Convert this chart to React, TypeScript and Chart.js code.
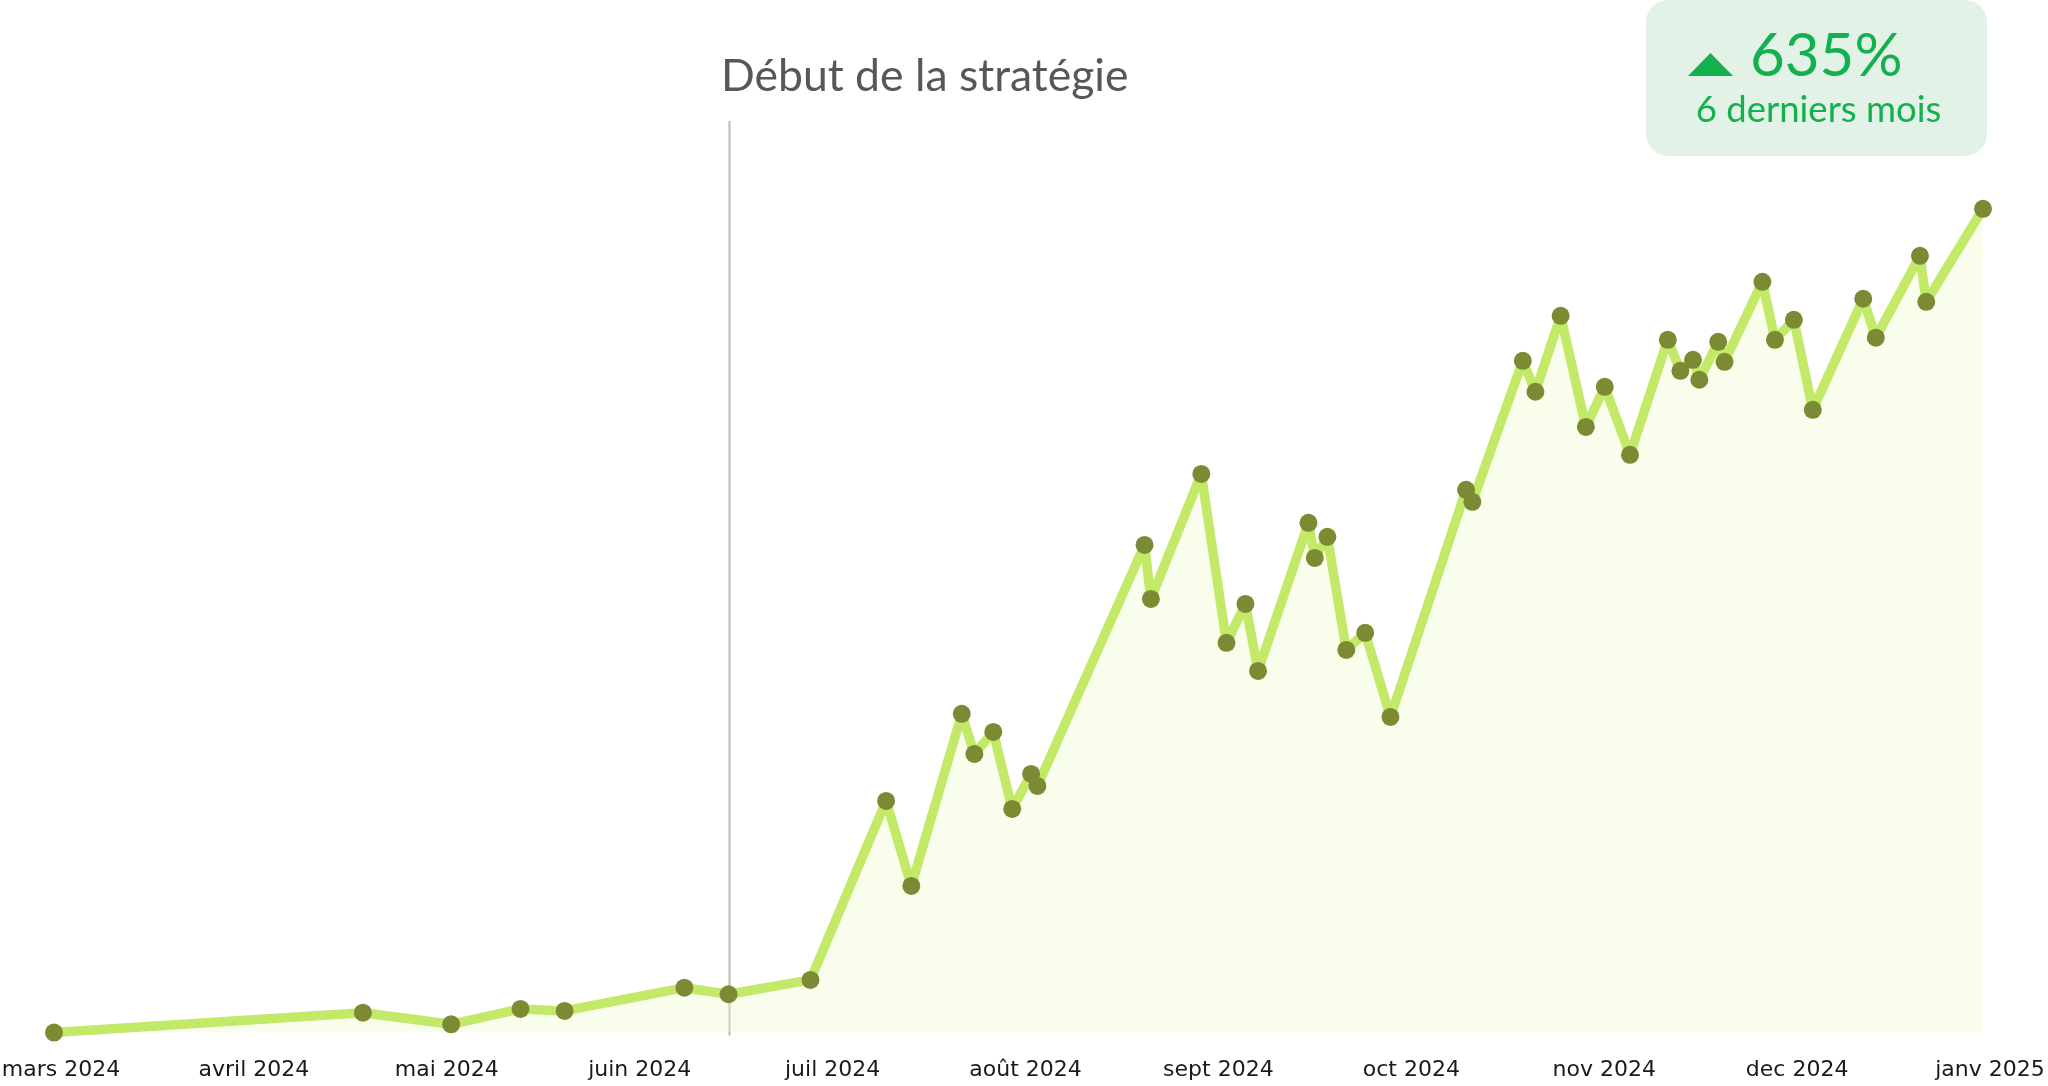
import { useEffect, useRef } from 'react';
import { Chart, registerables } from 'chart.js';

Chart.register(...registerables);

// ---- data ----
const dates: string[] = [
  '2024-03-01', '2024-04-19', '2024-05-03', '2024-05-14', '2024-05-21', '2024-06-09', '2024-06-16', '2024-06-29',
  '2024-07-11', '2024-07-15', '2024-07-23', '2024-07-25', '2024-07-28', '2024-07-31', '2024-08-03', '2024-08-04',
  '2024-08-21', '2024-08-22', '2024-08-30', '2024-09-03', '2024-09-06', '2024-09-08', '2024-09-16', '2024-09-17',
  '2024-09-19', '2024-09-22', '2024-09-25', '2024-09-29', '2024-10-11', '2024-10-12', '2024-10-20', '2024-10-22',
  '2024-10-26', '2024-10-30', '2024-11-02', '2024-11-06', '2024-11-12', '2024-11-14', '2024-11-16', '2024-11-17',
  '2024-11-20', '2024-11-21', '2024-11-27', '2024-11-29', '2024-12-02', '2024-12-05', '2024-12-13', '2024-12-15',
  '2024-12-22', '2024-12-23', '2025-01-01',
];

const values: number[] = [
  69.0, 85.1, 75.7, 88.1, 86.5, 105.3, 100.0, 111.6,
  256.3, 187.6, 326.7, 294.3, 312.1, 249.8, 278.1, 268.4,
  463.3, 419.6, 520.7, 384.1, 415.6, 361.4, 481.1, 452.8,
  469.8, 378.4, 392.2, 324.2, 507.8, 498.1, 612.1, 587.1,
  648.5, 558.7, 591.1, 536.1, 629.1, 604.0, 612.9, 596.8,
  627.5, 611.3, 676.0, 629.1, 645.3, 572.5, 662.3, 630.8,
  697.0, 659.8, 735.0,
];

const monthLabels: string[] = [
  'mars 2024', 'avril 2024', 'mai 2024', 'juin 2024', 'juil 2024', 'août 2024',
  'sept 2024', 'oct 2024', 'nov 2024', 'dec 2024', 'janv 2025',
];

const strategyDate = '2024-06-16';
const strategyLabel = 'Début de la stratégie';
const badgeValue = '635%';
const badgeLabel = '6 derniers mois';

const rangeStart = '2024-03-01';
const rangeEnd = '2025-01-01';
const yMin = 69;
const yMax = 806;

// ---- helpers ----
const DAY = 86400000;
const toDay = (s: string) => (Date.parse(s + 'T00:00:00Z') - Date.parse(rangeStart + 'T00:00:00Z')) / DAY;

const strategyLinePlugin = {
  id: 'strategyLine',
  beforeDatasetsDraw(chart: any) {
    const { ctx, chartArea, scales } = chart;
    const x = Math.round(scales.x.getPixelForValue(toDay(strategyDate))) + 0.5;
    ctx.save();
    ctx.strokeStyle = '#b8b8b8';
    ctx.lineWidth = 2;
    ctx.beginPath();
    ctx.moveTo(x, chartArea.top);
    ctx.lineTo(x, chartArea.bottom + 3);
    ctx.stroke();
    ctx.restore();
  },
};

export default function App() {
  const canvasRef = useRef<HTMLCanvasElement | null>(null);

  useEffect(() => {
    if (!canvasRef.current) return;
    const maxDay = toDay(rangeEnd);
    const tickValues = monthLabels.map((_, i) => (i * maxDay) / (monthLabels.length - 1));
    const chart = new Chart(canvasRef.current, {
      type: 'line',
      data: {
        datasets: [
          {
            data: dates.map((d, i) => ({ x: toDay(d), y: values[i] })),
            borderColor: '#c3e968',
            borderWidth: 9.5,
            borderJoinStyle: 'round',
            borderCapStyle: 'round',
            tension: 0,
            pointRadius: 9,
            pointHoverRadius: 9,
            pointBackgroundColor: '#7b8a33',
            pointBorderWidth: 0,
            fill: 'start',
            backgroundColor: 'rgba(238, 252, 206, 0.38)',
            clip: false,
          } as any,
        ],
      },
      options: {
        animation: false,
        responsive: true,
        maintainAspectRatio: false,
        layout: { padding: { left: 54, right: 65, top: 121, bottom: 0 } },
        plugins: { legend: { display: false }, tooltip: { enabled: false } },
        scales: {
          x: {
            type: 'linear',
            min: 0,
            max: maxDay,
            grid: { display: false, drawTicks: false },
            border: { display: false },
            afterBuildTicks: (axis: any) => {
              axis.ticks = tickValues.map((v) => ({ value: v }));
            },
            afterFit: (axis: any) => {
              axis.paddingLeft = 0;
              axis.paddingRight = 0;
            },
            ticks: {
              autoSkip: false,
              maxRotation: 0,
              padding: 24,
              labelOffset: 7,
              color: '#1a1a1a',
              font: { family: 'DejaVu Sans', size: 22 },
              callback: (_v: any, i: number) => monthLabels[i],
            },
          },
          y: {
            display: false,
            min: yMin,
            max: yMax,
          },
        },
      },
      plugins: [strategyLinePlugin],
    });
    return () => chart.destroy();
  }, []);

  return (
    <div style={{ position: 'absolute', left: 0, top: 0, width: 2048, height: 1086, background: '#fff', overflow: 'hidden' }}>
      <div style={{ position: 'absolute', left: 0, top: 0, width: 2048, height: 1107 }}>
        <canvas ref={canvasRef} />
      </div>
      <div
        style={{
          position: 'absolute',
          left: 721,
          top: 46,
          fontFamily: 'Lato, "Noto Sans", sans-serif',
          fontSize: 44.5,
          lineHeight: '56px',
          color: '#575757',
          whiteSpace: 'nowrap',
        }}
      >
        {strategyLabel}
      </div>
      <div
        style={{
          position: 'absolute',
          left: 1646,
          top: 0,
          width: 341,
          height: 156,
          borderRadius: 22,
          background: '#e3f2e7',
          color: '#14b04f',
          fontFamily: 'Lato, "Noto Sans", sans-serif',
        }}
      >
        <div
          style={{
            position: 'absolute',
            left: 42,
            top: 53,
            width: 45,
            height: 23,
            background: '#14b04f',
            clipPath: 'polygon(50% 0, 100% 100%, 0 100%)',
          }}
        />
        <div style={{ position: 'absolute', left: 104, top: 17, fontSize: 60, lineHeight: '72px', whiteSpace: 'nowrap' }}>
          {badgeValue}
        </div>
        <div style={{ position: 'absolute', left: 2, width: 341, top: 86, textAlign: 'center', fontSize: 36.5, lineHeight: '44px', whiteSpace: 'nowrap' }}>
          {badgeLabel}
        </div>
      </div>
    </div>
  );
}
